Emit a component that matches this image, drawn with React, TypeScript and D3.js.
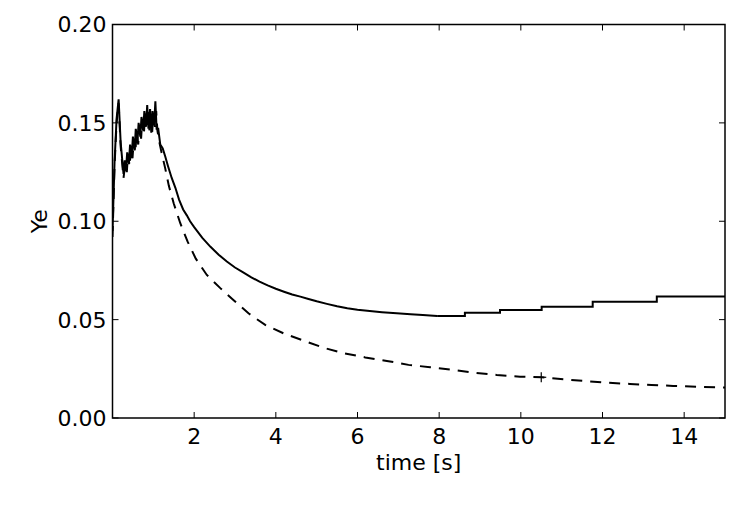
import React from "react";
import * as d3 from "d3";

// solid curve, smooth part: [time, Ye]
const solidEarly: [number, number][] = [
  [0.0, 0.095], [0.05, 0.13], [0.1, 0.152], [0.15, 0.162], [0.2, 0.14], [0.27, 0.124],
  [0.3, 0.131], [0.33, 0.126], [0.36, 0.135], [0.4, 0.129], [0.43, 0.139], [0.47, 0.133],
  [0.5, 0.143], [0.54, 0.136], [0.57, 0.147], [0.61, 0.14], [0.64, 0.15], [0.68, 0.143],
  [0.71, 0.153], [0.75, 0.146], [0.78, 0.156], [0.82, 0.148], [0.85, 0.159], [0.88, 0.147],
  [0.92, 0.157], [0.95, 0.145], [0.98, 0.156], [1.02, 0.149], [1.05, 0.161], [1.08, 0.147],
  [1.12, 0.147], [1.17, 0.139], [1.23, 0.137], [1.29, 0.133], [1.36, 0.128], [1.45, 0.122],
  [1.54, 0.117], [1.63, 0.111], [1.73, 0.106], [1.82, 0.103], [1.9, 0.1], [2.0, 0.097],
  [2.2, 0.0915], [2.4, 0.087], [2.6, 0.083], [2.8, 0.0795], [3.0, 0.0765], [3.2, 0.074],
  [3.4, 0.0715], [3.6, 0.0693], [3.8, 0.0674], [4.0, 0.0657], [4.2, 0.0642], [4.4, 0.0628],
  [4.6, 0.0617], [4.8, 0.0605], [5.0, 0.0593], [5.25, 0.058], [5.5, 0.0568], [5.75, 0.0558],
  [6.0, 0.055], [6.3, 0.0544], [6.6, 0.0538], [6.96, 0.0532], [7.3, 0.0527], [7.6, 0.0523],
  [7.95, 0.0518],
];

// solid curve, staircase tail: [time, Ye]
const solidLate: [number, number][] = [
  [7.95, 0.0518], [8.63, 0.0535], [9.49, 0.0549], [10.51, 0.0566], [11.76, 0.0591],
  [13.33, 0.0617], [15.0, 0.0617],
];

// dashed curve: [time, Ye]
const dashedSeries: [number, number][] = [
  [0.0, 0.092], [0.05, 0.128], [0.1, 0.15], [0.15, 0.16], [0.2, 0.138], [0.27, 0.122],
  [0.31, 0.129], [0.35, 0.125], [0.38, 0.134], [0.42, 0.128], [0.45, 0.137], [0.49, 0.132],
  [0.52, 0.141], [0.56, 0.135], [0.59, 0.145], [0.63, 0.139], [0.66, 0.149], [0.7, 0.142],
  [0.73, 0.152], [0.77, 0.145], [0.8, 0.155], [0.84, 0.147], [0.87, 0.157], [0.9, 0.146],
  [0.94, 0.155], [0.97, 0.145], [1.0, 0.154], [1.04, 0.148], [1.07, 0.156], [1.1, 0.146],
  [1.15, 0.14], [1.2, 0.135], [1.29, 0.127], [1.38, 0.118], [1.5, 0.109], [1.66, 0.099],
  [1.84, 0.0896], [2.04, 0.081], [2.31, 0.0727], [2.64, 0.066], [2.96, 0.06], [3.33, 0.0532],
  [3.74, 0.0473], [4.19, 0.043], [4.68, 0.0393], [5.17, 0.0357], [5.66, 0.0329], [6.19, 0.0308],
  [6.72, 0.029], [7.25, 0.027], [7.78, 0.0258], [8.35, 0.0244], [8.88, 0.023], [9.41, 0.0219],
  [9.98, 0.021], [10.51, 0.0207], [11.04, 0.0197], [11.57, 0.0188], [12.1, 0.018],
  [12.67, 0.0173], [13.2, 0.0168], [13.73, 0.0163], [14.3, 0.0159], [14.87, 0.0156],
  [15.0, 0.0155],
];

const crossMarks: [number, number][] = [[10.5, 0.0207]];

const xTicks = [2, 4, 6, 8, 10, 12, 14];
const yTicks = [0, 0.05, 0.1, 0.15, 0.2];

const W = 747;
const H = 507;
const left = 112.5;
const right = 725;
const top = 24.5;
const bottom = 418;
const font = "DejaVu Sans, sans-serif";
const tickLen = 6;

export default function App() {
  const x = d3.scaleLinear().domain([0, 15]).range([left, right]);
  const y = d3.scaleLinear().domain([0, 0.2]).range([bottom, top]);

  const stepLine = d3
    .line<[number, number]>()
    .x((d) => x(d[0]))
    .y((d) => y(d[1]))
    .curve(d3.curveStepAfter);

  const plainLine = d3
    .line<[number, number]>()
    .x((d) => x(d[0]))
    .y((d) => y(d[1]));

  return (
    <svg
      width={W}
      height={H}
      style={{ position: "absolute", left: 0, top: 0, background: "#fff" }}
    >
      <defs>
        <clipPath id="plot">
          <rect x={left} y={top} width={right - left} height={bottom - top} />
        </clipPath>
      </defs>
      <g clipPath="url(#plot)">
        <path
          d={plainLine(dashedSeries) || ""}
          fill="none"
          stroke="#000"
          strokeWidth={2}
          strokeDasharray="11,8"
        />
        <path d={plainLine(solidEarly) || ""} fill="none" stroke="#000" strokeWidth={2} />
        <path d={stepLine(solidLate) || ""} fill="none" stroke="#000" strokeWidth={2} />
        {crossMarks.map((d, i) => (
          <g key={i} stroke="#000" strokeWidth={1.2}>
            <line x1={x(d[0])} x2={x(d[0])} y1={y(d[1]) - 5} y2={y(d[1]) + 5} />
            <line x1={x(d[0]) - 5} x2={x(d[0]) + 5} y1={y(d[1])} y2={y(d[1])} />
          </g>
        ))}
      </g>

      {/* ticks, inward on all four sides */}
      <g stroke="#000" strokeWidth={1}>
        {xTicks.map((t) => (
          <g key={"xt" + t}>
            <line x1={x(t)} x2={x(t)} y1={bottom} y2={bottom - tickLen} />
            <line x1={x(t)} x2={x(t)} y1={top} y2={top + tickLen} />
          </g>
        ))}
        {yTicks.map((t) => (
          <g key={"yt" + t}>
            <line x1={left} x2={left + tickLen} y1={y(t)} y2={y(t)} />
            <line x1={right} x2={right - tickLen} y1={y(t)} y2={y(t)} />
          </g>
        ))}
      </g>

      <rect
        x={left}
        y={top}
        width={right - left}
        height={bottom - top}
        fill="none"
        stroke="#000"
        strokeWidth={1.5}
      />

      <g fontFamily={font} fontSize={22} fill="#000">
        {xTicks.map((t) => (
          <text key={"xl" + t} x={x(t)} y={444} textAnchor="middle">
            {t}
          </text>
        ))}
        {yTicks.map((t) => (
          <text key={"yl" + t} x={left - 6} y={y(t)} dy="0.36em" textAnchor="end">
            {d3.format(".2f")(t)}
          </text>
        ))}
        <text x={(left + right) / 2} y={470} textAnchor="middle">
          time [s]
        </text>
        <text transform={`translate(47,${(top + bottom) / 2}) rotate(-90)`} textAnchor="middle">
          Ye
        </text>
      </g>
    </svg>
  );
}
